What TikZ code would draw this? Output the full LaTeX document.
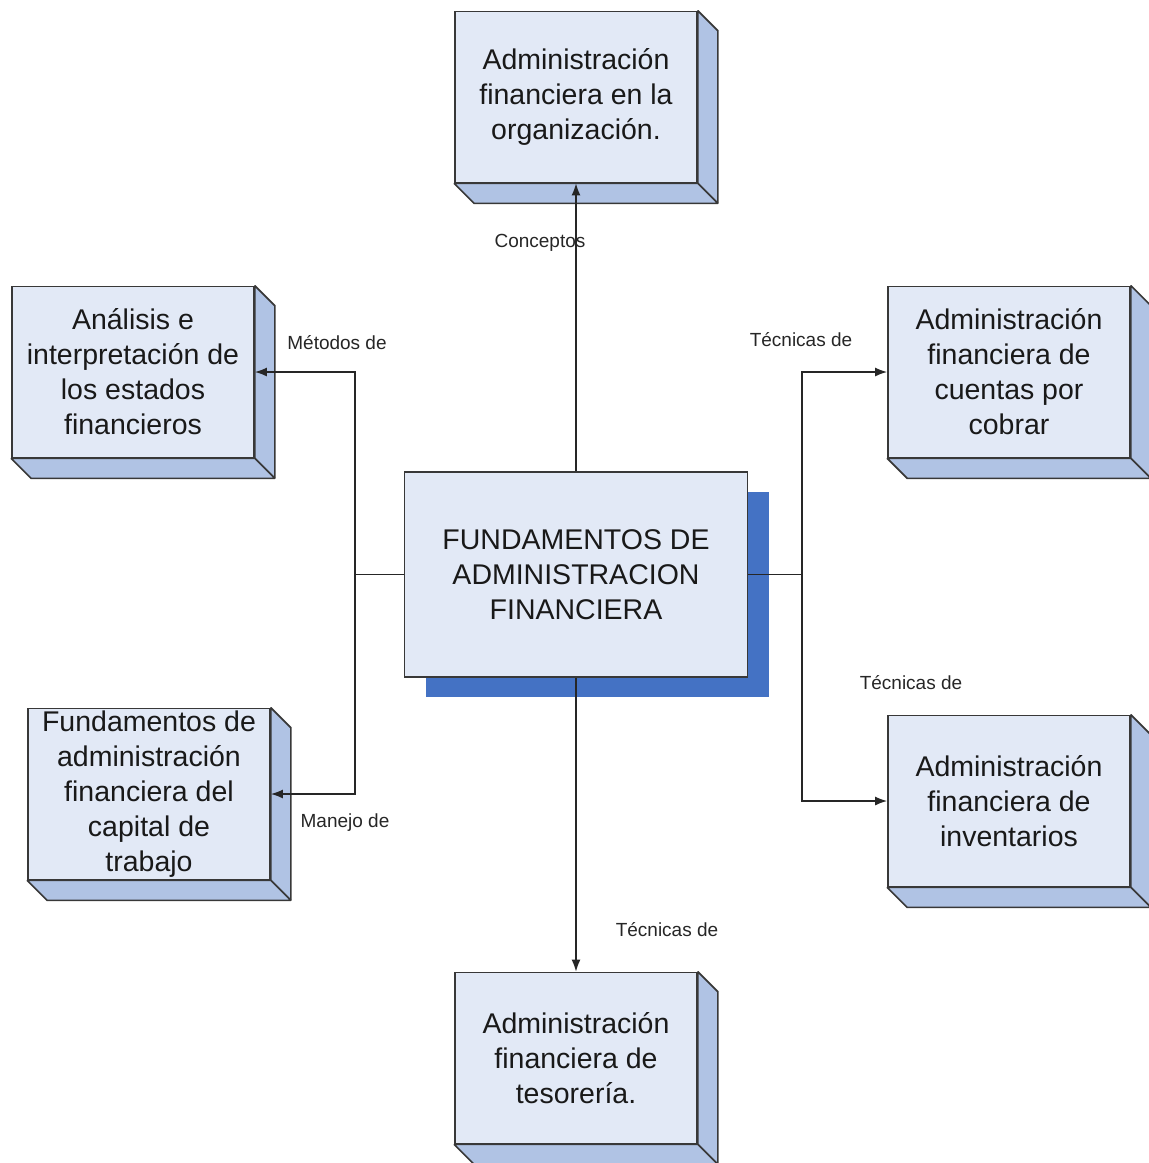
\documentclass[tikz,border=0pt]{standalone}
\usepackage{fontspec}
\setmainfont{Liberation Sans}
\usetikzlibrary{calc,arrows.meta,shadows}
\definecolor{facecol}{RGB}{226,233,246}
\definecolor{sidecol}{RGB}{176,195,228}
\definecolor{shadowcol}{RGB}{68,114,196}
\definecolor{edgecol}{RGB}{56,56,56}
\tikzset{
  topic/.style={rectangle, draw=edgecol, line width=1.7pt, fill=facecol,
    minimum width=242pt, minimum height=171pt, inner sep=0pt, align=center,
    font=\fontsize{28.5}{35}\selectfont, text=black!90},
  hubbox/.style={topic, minimum width=343pt, minimum height=205pt,
    general shadow={fill=shadowcol, shadow xshift=21pt, shadow yshift=-20pt}},
  face/.style={fill=sidecol, draw=edgecol, line width=1.7pt, line join=bevel},
  link/.style={draw=black!85, line width=1.5pt},
  tag/.style={font=\fontsize{19}{22}\selectfont, text=black!85, inner sep=0pt},
}
\def\depthbox(#1){%
  \draw[face] (#1.north east) -- ++(20,20) -- ($(#1.south east)+(20,20)$) -- (#1.south east) -- cycle;
  \draw[face] (#1.south west) -- ++(20,20) -- ($(#1.south east)+(20,20)$) -- (#1.south east) -- cycle;}

\begin{document}
\begin{tikzpicture}[x=1pt, y=-1pt, >={Latex[length=12pt,width=9pt]}]
			%%%%% START %%%%%
			\useasboundingbox (0,0) rectangle (1149,1163);
			
			\node[hubbox] (hub) at (576,574.5) {FUNDAMENTOS DE\\ADMINISTRACION\\FINANCIERA};
			
			\node[topic] (org) at (576,97) {Administración\\financiera en la\\organización.};
			\depthbox(org)
			\node[topic] (analisis) at (133,372) {Análisis e\\interpretación de\\los estados\\financieros};
			\depthbox(analisis)
			\node[topic] (capital) at (149,794) {Fundamentos de\\administración\\financiera del\\capital de\\trabajo};
			\depthbox(capital)
			\node[topic] (cuentas) at (1009,372) {Administración\\financiera de\\cuentas por\\cobrar};
			\depthbox(cuentas)
			\node[topic] (inventarios) at (1009,801) {Administración\\financiera de\\inventarios};
			\depthbox(inventarios)
			\node[topic] (tesoreria) at (576,1058) {Administración\\financiera de\\tesorería.};
			\depthbox(tesoreria)
			
			\coordinate (ljoin) at (355,574.5);
			\coordinate (rjoin) at (802,574.5);
			
			\draw[link,->] (hub.north) -- (org.south);
			\draw[link,->] (hub.south) -- (tesoreria.north);
			\draw[link] (hub.west) -- (ljoin);
			\draw[link,->] (ljoin) |- (analisis.east);
			\draw[link,->] (ljoin) |- (capital.east);
			\draw[link] (hub.east) -- (rjoin);
			\draw[link,->] (rjoin) |- (cuentas.west);
			\draw[link,->] (rjoin) |- (inventarios.west);
			
			\node[tag] (tconceptos) at (540,243) {Conceptos};
			\node[tag] (tmetodos) at (337,343) {Métodos de};
			\node[tag] (tmanejo) at (345,823) {Manejo de};
			\node[tag] (tcuentas) at (801,340) {Técnicas de};
			\node[tag] (tinventarios) at (911,683) {Técnicas de};
			\node[tag] (ttesoreria) at (667,930) {Técnicas de};
			%%%%% END %%%%%
\end{tikzpicture}
\end{document}
